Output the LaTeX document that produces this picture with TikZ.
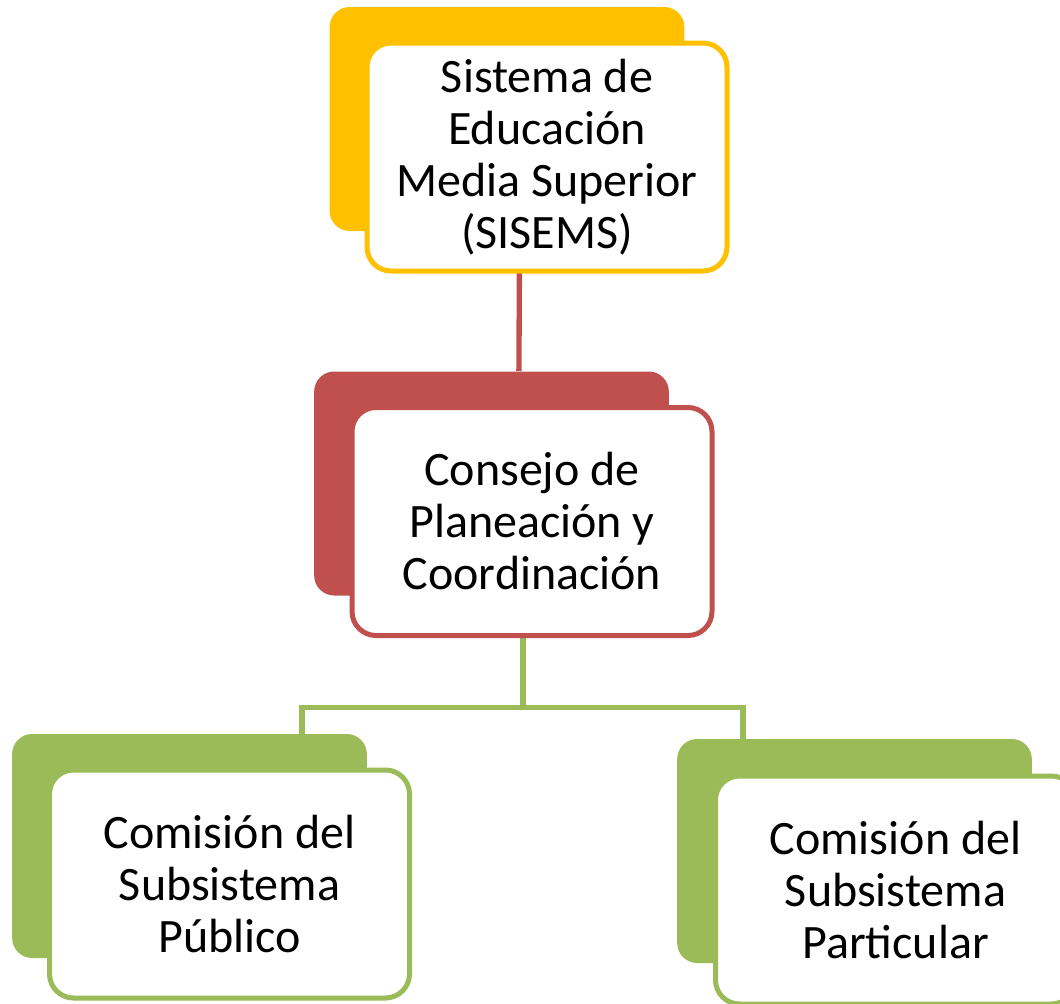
\documentclass[tikz,border=0pt]{standalone}
\usepackage{fontspec}
\setmainfont{Carlito}
\usepackage{xcolor}
\usetikzlibrary{calc}

\definecolor{sisyellow}{RGB}{255,192,0}
\definecolor{sisred}{RGB}{192,80,77}
\definecolor{sisgreen}{RGB}{155,187,89}

\begin{document}
\begin{tikzpicture}[x=0.75pt,y=0.75pt,yscale=-1,xscale=1,
  backbox/.style={rectangle,rounded corners=15pt,draw=none,inner sep=0pt,minimum width=266pt,minimum height=168pt},
  frontbox/.style={rectangle,rounded corners=18pt,fill=white,line width=3.75pt,inner sep=0pt,align=center,
    minimum width=270pt,minimum height=171pt,font=\fontsize{36}{39}\selectfont},
  linkred/.style={draw=sisred,line width=4pt},
  linkgreen/.style={draw=sisgreen,line width=4pt}]
\useasboundingbox (0,0) rectangle (1060,1003);

%Shape: back boxes
\node[backbox,fill=sisyellow] (sisemsback) at (507,119) {};
\node[backbox,fill=sisred] (consejoback) at (491.5,483.5) {};
\node[backbox,fill=sisgreen] (publicoback) at (189.5,846) {};
\node[backbox,fill=sisgreen] (particularback) at (854.5,851) {};

%Straight Lines: connectors
\draw[linkred] ($(sisemsback.south west)+(190,40)$) -- ($(consejoback.north west)+(205,0)$);
\coordinate (fork) at ($(consejoback.south west)+(209,112)$);
\draw[linkgreen] ($(consejoback.south west)+(209,0)$) -- (fork);
\draw[linkgreen] ($(publicoback.north west)+(290,0)$) |- (fork) -| ($(particularback.north west)+(66,0)$);

% Text Node
\node[frontbox,draw=sisyellow] (sisems) at (547,157) {Sistema de\\Educación\\Media Superior\\(SISEMS)};
% Text Node
\node[frontbox,draw=sisred] (consejo) at (532,521.5) {Consejo de\\Planeación y\\Coordinación};
% Text Node
\node[frontbox,draw=sisgreen] (publico) at (229.5,884) {Comisión del\\Subsistema\\Público};
% Text Node
\node[frontbox,draw=sisgreen] (particular) at (895.5,890) {Comisión del\\Subsistema\\Particular};
\end{tikzpicture}
\end{document}
